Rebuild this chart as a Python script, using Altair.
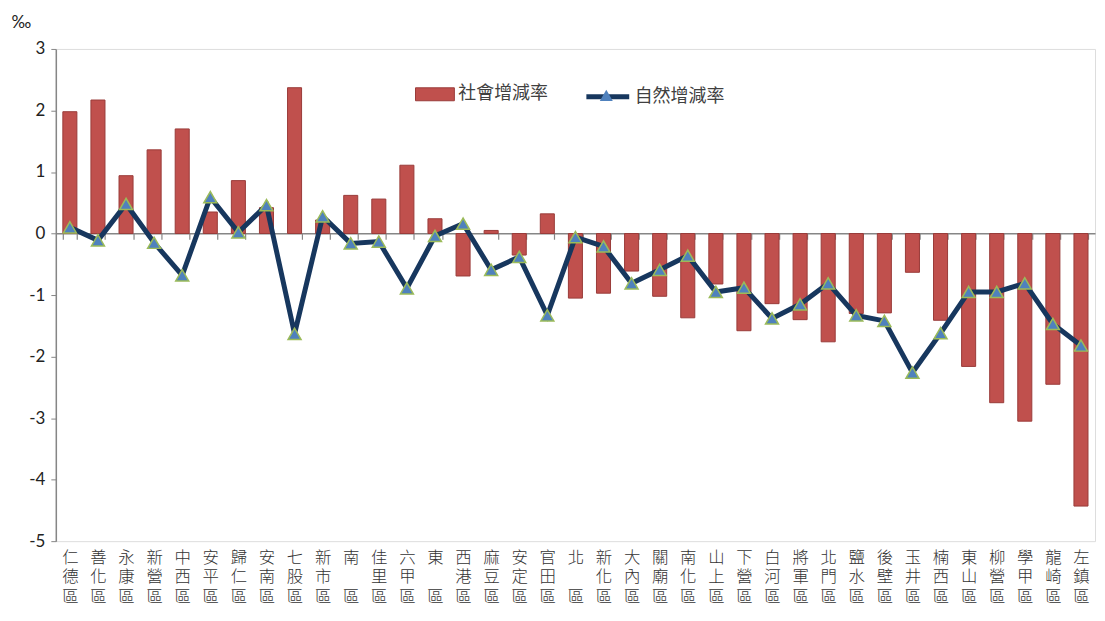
import altair as alt
import pandas as pd

districts = ["仁德區", "善化區", "永康區", "新營區", "中西區", "安平區", "歸仁區", "安南區",
             "七股區", "新市區", "南區", "佳里區", "六甲區", "東區", "西港區", "麻豆區",
             "安定區", "官田區", "北區", "新化區", "大內區", "關廟區", "南化區", "山上區",
             "下營區", "白河區", "將軍區", "北門區", "鹽水區", "後壁區", "玉井區", "楠西區",
             "東山區", "柳營區", "學甲區", "龍崎區", "左鎮區"]

social = [1.98, 2.17, 0.94, 1.36, 1.70, 0.35, 0.86, 0.42, 2.37, 0.22,
          0.62, 0.56, 1.11, 0.24, -0.69, 0.05, -0.35, 0.32, -1.05, -0.97,
          -0.61, -1.02, -1.37, -0.82, -1.58, -1.14, -1.40, -1.76, -1.30, -1.29,
          -0.63, -1.41, -2.16, -2.75, -3.05, -2.45, -4.43]

natural = [0.10, -0.11, 0.48, -0.15, -0.68, 0.59, 0.02, 0.46, -1.63, 0.28,
           -0.16, -0.13, -0.89, -0.04, 0.16, -0.59, -0.38, -1.33, -0.06, -0.21,
           -0.81, -0.59, -0.36, -0.95, -0.88, -1.38, -1.15, -0.81, -1.33, -1.42,
           -2.26, -1.62, -0.95, -0.95, -0.81, -1.47, -1.82]

y_ticks = [-5, -4, -3, -2, -1, 0, 1, 2, 3]
s_name = "社會增減率"
n_name = "自然增減率"

df = pd.DataFrame({"district": districts, "social": social, "natural": natural})

label_expr = ("length(datum.label) == 2 ? [substring(datum.label,0,1), '\u3164', substring(datum.label,1,2)]"
              " : split(datum.label, '')")

x_enc = alt.X(
    "district:N",
    sort=districts,
    scale=alt.Scale(domain=districts, paddingInner=0.5, paddingOuter=0.25),
    axis=alt.Axis(
        title=None,
        orient="bottom",
        offset=-309,
        domainColor="#868686",
        domainWidth=1.5,
        tickColor="#868686",
        tickSize=6,
        tickWidth=1.2,
        tickBand="extent",
        labelPadding=311,
        labelAngle=0,
        labelFont="Liberation Sans, Noto Sans CJK TC",
        labelFontSize=16.5,
        labelFontWeight=300,
        labelLineHeight=20,
        labelColor="#333333",
        labelBaseline="top",
        labelOverlap=False,
        labelFlush=False,
        labelExpr=label_expr,
    ),
)

y_scale = alt.Scale(domain=[-5, 3], nice=False, zero=False)

base = alt.Chart(df)

bars = base.transform_calculate(series1="'" + s_name + "'").mark_bar(
    stroke="#9A3B39", strokeWidth=1
).encode(
    x=x_enc,
    y=alt.Y(
        "social:Q",
        scale=y_scale,
        axis=alt.Axis(
            title="‰",
            titleAngle=0,
            titleX=-35,
            titleY=-27,
            titleAlign="center",
            titleBaseline="middle",
            titleFont="Lato",
            titleFontSize=17,
            titleFontWeight="normal",
            titleColor="#222222",
            values=y_ticks,
            grid=False,
            domainColor="#868686",
            domainWidth=1.5,
            tickColor="#868686",
            tickSize=5,
            labelPadding=6,
            labelFont="Lato",
            labelFontSize=17,
            labelColor="#222222",
            labelExpr="'' + datum.value",
        ),
    ),
    y2=alt.datum(0),
    fill=alt.Fill(
        "series1:N",
        scale=alt.Scale(domain=[s_name], range=["#C0504D"]),
        legend=alt.Legend(
            title=None,
            orient="none",
            legendX=367,
            legendY=32,
            padding=0,
            symbolType="M-1.5,-0.5L1.5,-0.5L1.5,0.5L-1.5,0.5Z",
            symbolSize=676,
            symbolStrokeColor="#9A3B39",
            symbolStrokeWidth=1,
            labelOffset=10,
            labelFont="Noto Sans CJK TC",
            labelFontSize=18,
            labelColor="#404040",
        ),
    ),
)

line = base.transform_calculate(series2="'" + n_name + "'").mark_line(
    strokeWidth=5, strokeJoin="miter"
).encode(
    x=x_enc,
    y=alt.Y("natural:Q", scale=y_scale),
    stroke=alt.Stroke(
        "series2:N",
        scale=alt.Scale(domain=[n_name], range=["#17375E"]),
        legend=alt.Legend(
            title=None,
            orient="none",
            legendX=530,
            legendY=24,
            padding=0,
            symbolType="stroke",
            symbolSize=1849,
            symbolStrokeWidth=5,
            labelOffset=3,
            labelFont="Noto Sans CJK TC",
            labelFontSize=18,
            labelColor="#404040",
        ),
    ),
)

points = base.transform_calculate(series3="'" + n_name + " '").mark_point(
    filled=True, fill="#4F81BD", stroke="#9BBB59", strokeWidth=1.5, size=170, opacity=1
).encode(
    x=x_enc,
    y=alt.Y("natural:Q", scale=y_scale),
    shape=alt.Shape(
        "series3:N",
        scale=alt.Scale(domain=[n_name + " "], range=["triangle-up"]),
        legend=alt.Legend(
            title=None,
            orient="none",
            legendX=545,
            legendY=39,
            padding=0,
            zindex=3,
            symbolSize=170,
            symbolFillColor="#4F81BD",
            symbolStrokeColor="#9BBB59",
            symbolStrokeWidth=1.5,
            labelExpr="''",
            labelFontSize=10,
        ),
    ),
)

chart = alt.layer(bars, line, points).resolve_scale(
    fill="independent", stroke="independent", shape="independent"
).properties(
    width=1043,
    height=494,
    padding={"left": 48, "top": 40, "right": 2, "bottom": 66},
    autosize=alt.AutoSizeParams(type="none"),
).configure_view(stroke=None).configure(background="white")

chart.save("out.html", embed_options={"renderer": "svg", "actions": False})
